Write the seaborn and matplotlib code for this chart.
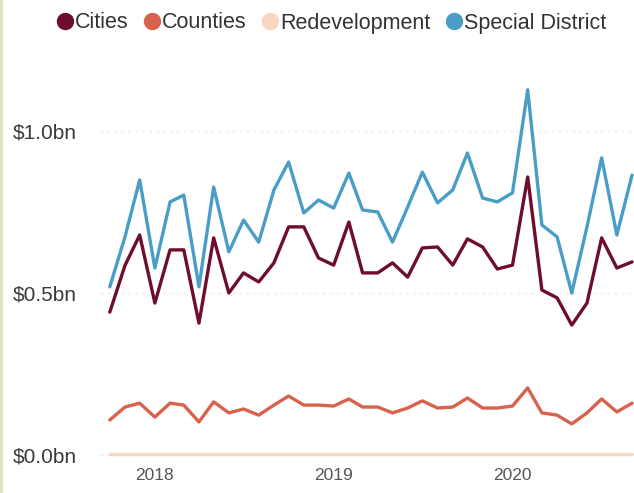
import numpy as np
import pandas as pd
import matplotlib
matplotlib.use("Agg")
import matplotlib.pyplot as plt
import matplotlib.dates as mdates
from matplotlib.lines import Line2D
import seaborn as sns

# monthly values, $bn, Oct 2017 - Sep 2020
months = pd.date_range("2017-10-01", periods=36, freq="MS")

cities = [0.441, 0.585, 0.679, 0.469, 0.633, 0.633, 0.407, 0.670, 0.500, 0.562,
          0.534, 0.593, 0.704, 0.704, 0.608, 0.586, 0.719, 0.562, 0.562, 0.593,
          0.549, 0.639, 0.642, 0.586, 0.667, 0.642, 0.574, 0.586, 0.858, 0.509,
          0.485, 0.401, 0.469, 0.670, 0.577, 0.596]
counties = [0.108, 0.148, 0.160, 0.117, 0.160, 0.154, 0.102, 0.164, 0.130, 0.142,
            0.123, 0.154, 0.182, 0.154, 0.154, 0.151, 0.173, 0.148, 0.148, 0.130,
            0.145, 0.167, 0.145, 0.148, 0.176, 0.145, 0.145, 0.151, 0.207, 0.130,
            0.123, 0.096, 0.130, 0.173, 0.133, 0.160]
redevelopment = [0.002, 0.002, 0.002, 0.002, 0.002, 0.002, 0.002, 0.002, 0.002, 0.002,
                 0.002, 0.002, 0.002, 0.002, 0.002, 0.002, 0.002, 0.002, 0.002, 0.002,
                 0.002, 0.002, 0.002, 0.002, 0.002, 0.002, 0.002, 0.002, 0.002, 0.002,
                 0.002, 0.002, 0.002, 0.002, 0.002, 0.002]
special_district = [0.519, 0.673, 0.849, 0.577, 0.781, 0.802, 0.519, 0.827, 0.627, 0.725,
                    0.657, 0.818, 0.904, 0.747, 0.787, 0.762, 0.870, 0.756, 0.750, 0.657,
                    0.765, 0.873, 0.778, 0.818, 0.932, 0.793, 0.781, 0.809, 1.127, 0.710,
                    0.673, 0.500, 0.704, 0.917, 0.679, 0.864]

series_names = ["Cities", "Counties", "Redevelopment", "Special District"]
colors = ["#6e0d2c", "#d9624c", "#f7d6c2", "#4a9dc6"]
ytick_vals = [0.0, 0.5, 1.0]
ytick_labels = ["$0.0bn", "$0.5bn", "$1.0bn"]

df = pd.DataFrame({
    "Month": np.tile(months, 4),
    "Value": cities + counties + redevelopment + special_district,
    "Type": np.repeat(series_names, len(months)),
})

sns.set_style("white")
plt.rcParams["font.family"] = ["Liberation Sans", "DejaVu Sans"]

W, H = 634, 493
fig = plt.figure(figsize=(W / 100, H / 100), dpi=100)
ax = fig.add_axes([100 / W, 1 - 462 / H, 534 / W, 402 / H])

sns.lineplot(data=df, x="Month", y="Value", hue="Type", hue_order=series_names,
             palette=colors, linewidth=2.4, ax=ax, legend=False)

# axis limits so the first month sits just inside the left edge
ax.set_xlim(months[0] - pd.Timedelta(days=20), months[-1] + pd.Timedelta(days=4))
ax.set_ylim(-0.0216, 1.219)

ax.set_yticks(ytick_vals)
ax.set_yticklabels(ytick_labels)
ax.xaxis.set_major_locator(mdates.YearLocator())
ax.xaxis.set_major_formatter(mdates.DateFormatter("%Y"))
ax.tick_params(axis="y", length=0, pad=16.5, labelsize=15, labelcolor="#3a3a3a")
ax.tick_params(axis="x", length=0, pad=4, labelsize=12.5, labelcolor="#555555")
ax.set_xlabel("")
ax.set_ylabel("")
ax.grid(axis="y", color="#ececec", linestyle=(0, (2, 3)), linewidth=1)
ax.set_axisbelow(True)
sns.despine(ax=ax, left=True, bottom=True)

handles = [Line2D([], [], marker="o", linestyle="", markersize=11.5,
                  markerfacecolor=c, markeredgecolor=c) for c in colors]
fig.legend(handles, series_names, loc="center left", bbox_to_anchor=(56 / W, 1 - 23 / H),
           ncol=4, frameon=False, handletextpad=0.08, columnspacing=0.68,
           handlelength=0.8, borderpad=0, borderaxespad=0,
           fontsize=15.5, labelcolor="#333333")

# pale frame line on the left edge
fig.add_artist(Line2D([1 / W, 1 / W], [0, 1], color="#dde3b8", linewidth=2))

fig.savefig("out.png", dpi=100, facecolor="white")
